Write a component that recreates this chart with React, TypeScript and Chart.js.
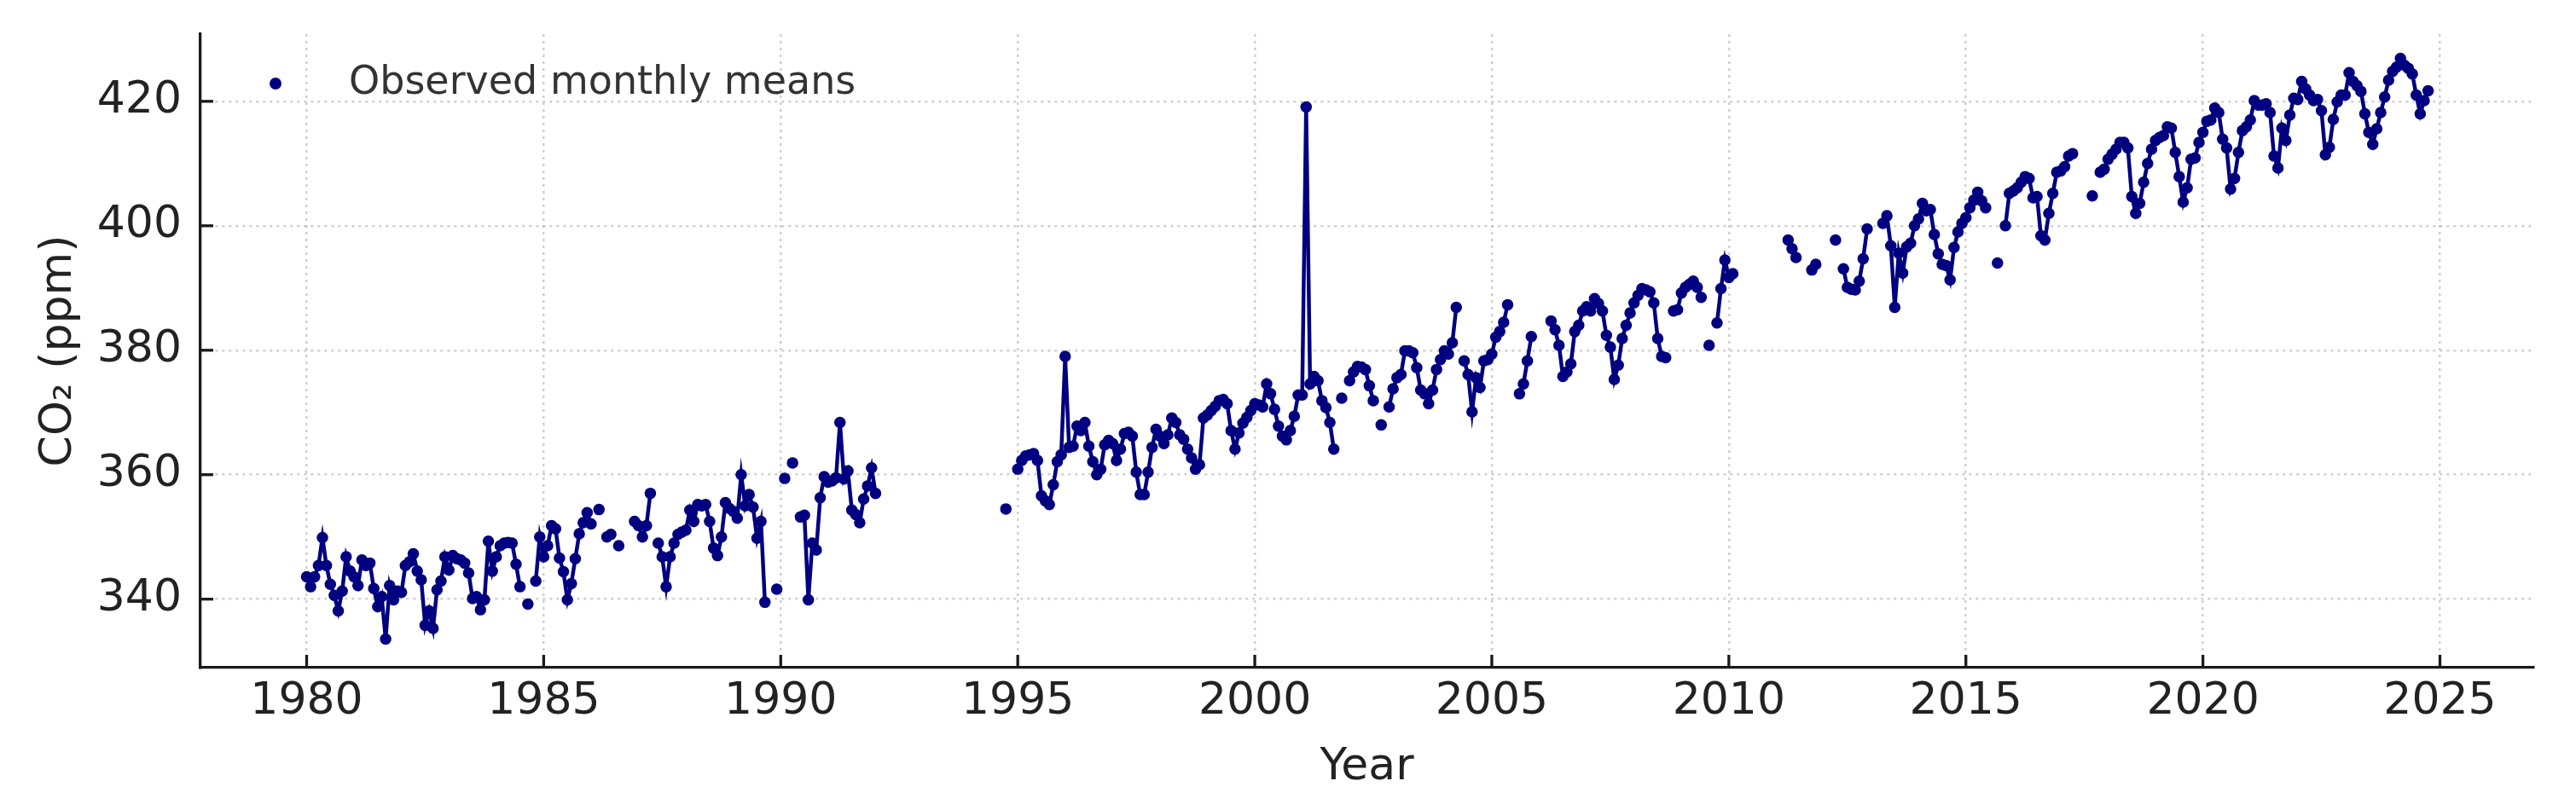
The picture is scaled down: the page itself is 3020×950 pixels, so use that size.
import React, { useEffect, useRef } from 'react';
import { Chart, registerables } from 'chart.js';

Chart.register(...registerables);

// Monthly CO2 means (ppm), Jan..Dec per year; null = missing month
const y1980 = [343.6, 342.0, 343.6, 345.4, 349.9, 345.4, 342.4, 340.6, 338.1, 341.3, 346.8, 344.5];
const y1981 = [343.6, 342.2, 346.3, 345.4, 345.8, 341.7, 338.8, 340.4, 333.6, 342.2, 339.9, 341.3];
const y1982 = [341.1, 345.4, 346.0, 347.3, 344.5, 343.1, 335.8, 338.1, 335.3, 341.5, 342.9, 346.8];
const y1983 = [344.7, 347.0, 346.5, 346.3, 345.8, 344.2, 340.1, 340.4, 338.3, 339.9, 349.3, 344.5];
const y1984 = [346.8, 348.6, 349.0, 349.1, 349.0, 345.6, 342.0, null, 339.2, null, 342.9, 350.0];
const y1985 = [346.8, 348.6, 351.8, 351.3, 346.6, 344.4, 339.9, 342.5, 346.5, 350.5, 352.3, 353.9];
const y1986 = [352.1, null, 354.4, null, 350.0, 350.4, null, 348.6, null, null, null, 352.5];
const y1987 = [351.8, 350.0, 351.8, 357.0, null, 349.0, 346.8, 342.0, 346.8, 349.0, 350.4, 350.8];
const y1988 = [351.1, 354.3, 352.5, 355.2, 355.0, 355.2, 352.5, 348.2, 347.0, 350.0, 355.5, 354.6];
const y1989 = [354.1, 353.0, 360.0, 355.0, 356.8, 354.8, 349.8, 352.5, 339.5, null, null, 341.6];
const y1990 = [null, 359.4, null, 361.9, null, 353.2, 353.5, 339.9, 349.0, 347.9, 356.3, 359.7];
const y1991 = [358.8, 359.0, 359.5, 368.4, 359.3, 360.6, 354.3, 353.6, 352.3, 356.1, 358.2, 361.1];
const y1992 = [357.0, null, null, null, null, null, null, null, null, null, null, null];
const y1993 = [null, null, null, null, null, null, null, null, null, null, null, null];
const y1994 = [null, null, null, null, null, null, null, null, null, 354.5, null, null];
const y1995 = [360.9, 362.3, 363.0, 363.2, 363.4, 362.3, 356.6, 355.8, 355.2, 358.4, 362.1, 363.2];
const y1996 = [379.0, 364.4, 364.6, 367.8, 367.1, 368.4, 364.6, 362.1, 360.0, 360.9, 364.8, 365.5];
const y1997 = [365.0, 362.3, 364.1, 366.6, 366.8, 366.2, 360.4, 356.8, 356.8, 360.4, 364.4, 367.3];
const y1998 = [366.2, 365.0, 366.4, 369.1, 368.4, 366.4, 365.7, 364.1, 362.7, 360.9, 361.6, 369.1];
const y1999 = [369.6, 370.3, 371.0, 371.9, 372.1, 371.4, 367.1, 364.1, 366.7, 368.3, 369.2, 370.3];
const y2000 = [371.4, 371.2, 370.9, 374.6, 373.0, 370.5, 367.8, 366.2, 365.6, 367.1, 369.4, 372.8];
const y2001 = [372.8, 419.1, 374.6, 375.8, 375.1, 371.9, 370.8, 368.4, 364.1, null, 372.3, null];
const y2002 = [375.1, 376.5, 377.4, 377.3, 376.9, 374.3, 371.9, null, 368.0, null, 370.9, 373.8];
const y2003 = [375.6, 376.1, 379.9, 379.9, 379.6, 377.2, 373.6, 373.0, 371.4, 373.6, 376.9, 378.5];
const y2004 = [379.9, 379.4, 381.2, 386.9, null, 378.3, 376.1, 370.1, 375.6, 374.0, 378.3, 378.5];
const y2005 = [379.4, 382.1, 383.0, 384.5, 387.3, null, null, 373.0, 374.6, 378.3, 382.2, null];
const y2006 = [null, null, null, 384.7, 383.3, 380.8, 375.8, 376.5, 377.8, 383.0, 384.0, 386.3];
const y2007 = [387.0, 386.3, 388.3, 387.5, 386.3, 382.4, 380.5, 375.3, 377.6, 381.9, 384.0, 386.0];
const y2008 = [387.6, 388.8, 389.9, 389.7, 389.4, 387.6, 381.9, 379.0, 378.8, null, 386.3, 386.5];
const y2009 = [389.2, 390.1, 390.6, 391.1, 390.1, 388.5, null, 380.8, null, 384.4, 389.9, 394.5];
const y2010 = [391.7, 392.3, null, null, null, null, null, null, null, null, null, null];
const y2011 = [null, null, null, 397.7, 396.3, 394.9, null, null, null, 392.9, 393.8, null];
const y2012 = [null, null, null, 397.7, null, 393.1, 390.1, 389.8, 389.7, 391.1, 394.7, 399.5];
const y2013 = [null, null, null, 400.4, 401.6, 396.8, 386.9, 395.6, 392.4, 396.6, 397.2, 400.0];
const y2014 = [401.1, 403.6, 402.4, 402.6, 398.6, 395.5, 393.8, 393.6, 391.3, 396.5, 399.0, 400.4];
const y2015 = [401.3, 402.9, 404.1, 405.4, 404.0, 402.9, null, null, 394.0, null, 400.0, 405.2];
const y2016 = [405.6, 406.1, 407.0, 407.9, 407.6, 404.5, 404.7, 398.4, 397.7, 402.0, 405.2, 408.6];
const y2017 = [408.8, 409.5, 411.2, 411.6, null, null, null, null, 404.8, null, 408.6, 409.1];
const y2018 = [410.7, 411.5, 412.3, 413.4, 413.4, 412.5, 404.7, 402.0, 403.6, 407.0, 410.0, 412.3];
const y2019 = [413.7, 414.2, 414.5, 415.9, 415.7, 411.8, 407.9, 403.8, 406.1, 410.7, 410.9, 413.4];
const y2020 = [415.0, 416.8, 417.0, 418.9, 418.2, 413.9, 412.5, 405.9, 407.6, 411.8, 415.3, 415.9];
const y2021 = [417.0, 420.1, 419.4, 419.4, 419.6, 418.2, 411.2, 409.3, 415.7, 413.7, 417.8, 420.5];
const y2022 = [420.3, 423.2, 422.0, 421.0, 420.1, 420.3, 418.5, 411.4, 412.6, 417.1, 419.9, 421.0];
const y2023 = [421.0, 424.6, 423.2, 422.5, 421.6, 418.0, 415.0, 413.1, 415.6, 418.2, 420.7, 423.4];
const y2024 = [424.8, 425.5, 426.9, 425.8, 425.3, 424.4, 421.0, 418.0, 420.1, 421.7];

const firstYear = 1980;
const yearRows = [
  y1980, y1981, y1982, y1983, y1984, y1985, y1986, y1987, y1988, y1989,
  y1990, y1991, y1992, y1993, y1994, y1995, y1996, y1997, y1998, y1999,
  y2000, y2001, y2002, y2003, y2004, y2005, y2006, y2007, y2008, y2009,
  y2010, y2011, y2012, y2013, y2014, y2015, y2016, y2017, y2018, y2019,
  y2020, y2021, y2022, y2023, y2024,
];

const seriesLabel = 'Observed monthly means';
const xTitle = 'Year';
const yTitle = 'CO\u2082 (ppm)';

const FONT = "'DejaVu Sans', sans-serif";
const NAVY = '#000080';

const legendPlugin = {
  id: 'mplLegend',
  afterDraw(chart: any) {
    const { ctx, chartArea } = chart;
    const ds = chart.data.datasets[0];
    const cx = chartArea.left + 88;
    const cy = chartArea.top + 58;
    ctx.save();
    ctx.fillStyle = ds.pointBackgroundColor;
    ctx.beginPath();
    ctx.arc(cx, cy, 7, 0, Math.PI * 2);
    ctx.fill();
    ctx.font = `46px ${FONT}`;
    ctx.fillStyle = '#333333';
    ctx.textAlign = 'left';
    ctx.textBaseline = 'middle';
    ctx.fillText(ds.label, chartArea.left + 174, cy);
    ctx.restore();
  },
};

const inwardTicksPlugin = {
  id: 'inwardTicks',
  afterDraw(chart: any) {
    const { ctx, chartArea, scales } = chart;
    const xs = scales.x;
    const ys = scales.y;
    ctx.save();
    ctx.strokeStyle = '#1a1a1a';
    ctx.lineWidth = 3.3;
    xs.ticks.forEach((t: any) => {
      const px = xs.getPixelForValue(t.value);
      ctx.beginPath();
      ctx.moveTo(px, chartArea.bottom);
      ctx.lineTo(px, chartArea.bottom - 15);
      ctx.stroke();
    });
    ys.ticks.forEach((t: any) => {
      const py = ys.getPixelForValue(t.value);
      ctx.beginPath();
      ctx.moveTo(chartArea.left, py);
      ctx.lineTo(chartArea.left + 15, py);
      ctx.stroke();
    });
    ctx.restore();
  },
};

export default function App() {
  const canvasRef = useRef<HTMLCanvasElement | null>(null);

  useEffect(() => {
    const canvas = canvasRef.current;
    if (!canvas) return;
    const points: { x: number; y: number | null }[] = [];
    yearRows.forEach((vals, i) => {
      vals.forEach((v, m) => {
        points.push({ x: firstYear + i + m / 12, y: v });
      });
    });

    const gridColor = 'rgba(170,170,170,0.55)';

    const chart = new Chart(canvas, {
      type: 'line',
      data: {
        datasets: [
          {
            label: seriesLabel,
            data: points as any,
            borderColor: NAVY,
            backgroundColor: NAVY,
            borderWidth: 4.5,
            pointRadius: 6,
            pointBorderWidth: 1.5,
            pointBackgroundColor: NAVY,
            pointBorderColor: NAVY,
            pointHoverRadius: 6,
            tension: 0,
            spanGaps: false,
            fill: false,
          },
        ],
      },
      options: {
        animation: false,
        responsive: false,
        maintainAspectRatio: false,
        layout: { padding: { left: 0, right: 50, top: 40, bottom: 0 } },
        plugins: {
          legend: { display: false },
          tooltip: { enabled: false },
        },
        scales: {
          x: {
            type: 'linear',
            position: 'bottom',
            min: 1977.76,
            max: 2026.97,
            afterFit: (s: any) => {
              s.height = 167;
              s.paddingLeft = 0;
              s.paddingRight = 0;
            },
            ticks: {
              stepSize: 5,
              includeBounds: false,
              autoSkip: false,
              maxRotation: 0,
              padding: 9,
              color: '#222222',
              font: { family: FONT, size: 52 },
              callback: (v: any) => String(v),
            },
            grid: {
              color: gridColor,
              lineWidth: 2.5,
              drawTicks: false,
              tickLength: 0,
            },
            border: { display: true, color: '#1a1a1a', width: 3.3, dash: [3, 5] },
            title: {
              display: true,
              text: xTitle,
              color: '#222222',
              font: { family: FONT, size: 52 },
              padding: { top: 0, bottom: 18 },
            },
          },
          y: {
            type: 'linear',
            position: 'left',
            min: 329.0,
            max: 430.8,
            afterFit: (s: any) => {
              s.width = 235;
              s.paddingTop = 0;
              s.paddingBottom = 0;
            },
            ticks: {
              stepSize: 20,
              includeBounds: false,
              padding: 22,
              color: '#222222',
              font: { family: FONT, size: 52 },
              callback: (v: any) => String(v),
            },
            grid: {
              color: gridColor,
              lineWidth: 2.5,
              drawTicks: false,
              tickLength: 0,
            },
            border: { display: true, color: '#1a1a1a', width: 3.3, dash: [3, 5] },
            title: {
              display: true,
              text: yTitle,
              color: '#222222',
              font: { family: FONT, size: 52 },
              padding: { top: 38, bottom: 0 },
            },
          },
        },
      },
      plugins: [legendPlugin, inwardTicksPlugin],
    } as any);

    return () => {
      chart.destroy();
    };
  }, []);

  return (
    <div style={{ position: 'fixed', left: 0, top: 0, width: 3020, height: 950, background: '#ffffff' }}>
      <canvas ref={canvasRef} width={3020} height={950} style={{ display: 'block', width: 3020, height: 950 }} />
    </div>
  );
}
